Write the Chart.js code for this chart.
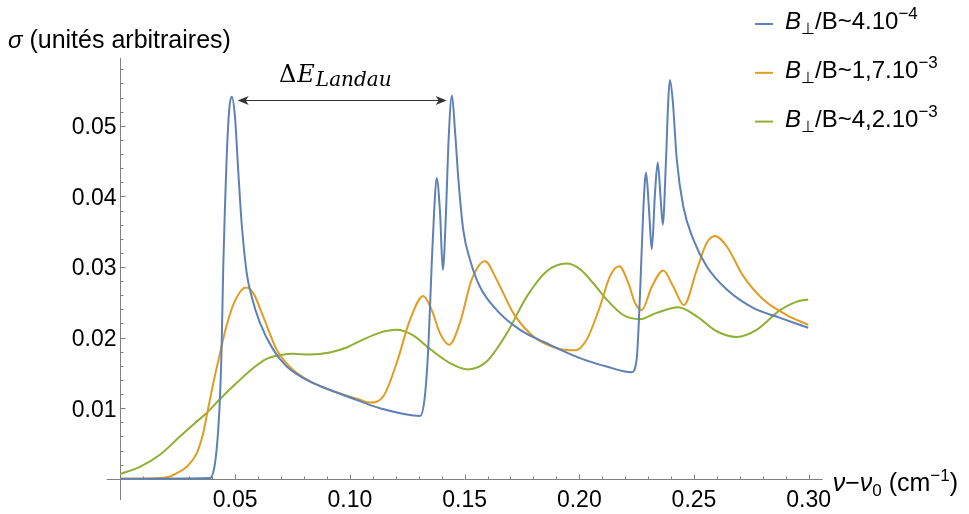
<!DOCTYPE html>
<html>
<head>
<meta charset="utf-8">
<script src="https://cdn.jsdelivr.net/npm/chart.js@4.4.0/dist/chart.umd.min.js"></script>
<style>
html, body { margin: 0; padding: 0; background: #fff; }
canvas { display: block; }
</style>
</head>
<body>
<canvas id="myChart" width="969" height="514"></canvas>
<script>
// [nu - nu0 (cm-1), sigma]
var blue = [[0, 0], [0.0390, 0.0001], [0.0412, 0.0022], [0.0426, 0.0069], [0.0434, 0.0117], [0.0441, 0.0187],
    [0.0448, 0.0300], [0.0456, 0.0390], [0.0463, 0.0456], [0.0474, 0.0523], [0.0485, 0.0541], [0.0499, 0.0513],
    [0.0514, 0.0433], [0.0528, 0.0363], [0.0550, 0.0292], [0.0572, 0.0258], [0.0608, 0.0221], [0.0666, 0.0183],
    [0.0725, 0.0159], [0.0812, 0.0140], [0.0928, 0.0124], [0.1044, 0.0110], [0.1131, 0.0100], [0.1306, 0.0089],
    [0.1327, 0.0117], [0.1342, 0.0187], [0.1357, 0.0306], [0.1367, 0.0377], [0.1378, 0.0426], [0.1393, 0.0377],
    [0.1405, 0.0296], [0.1419, 0.0377], [0.1429, 0.0471], [0.1445, 0.0543], [0.1458, 0.0494], [0.1473, 0.0424],
    [0.1494, 0.0353], [0.1524, 0.0310], [0.1567, 0.0272], [0.1640, 0.0239], [0.1742, 0.0211], [0.1858, 0.0192],
    [0.2003, 0.0171], [0.2119, 0.0159], [0.2228, 0.0151], [0.2250, 0.0169], [0.2265, 0.0264], [0.2279, 0.0381],
    [0.2291, 0.0434], [0.2304, 0.0381], [0.2316, 0.0325], [0.2330, 0.0405], [0.2342, 0.0448], [0.2355, 0.0395],
    [0.2364, 0.0360], [0.2378, 0.0452], [0.2388, 0.0537], [0.2395, 0.0565], [0.2407, 0.0537], [0.2425, 0.0452],
    [0.2453, 0.0386], [0.2497, 0.0339], [0.2555, 0.0301], [0.2643, 0.0268], [0.2758, 0.0242], [0.2875, 0.0228],
    [0.2998, 0.0214]];

var orange = [[0, 0], [0.0201, 0.0002], [0.0245, 0.0008], [0.0289, 0.0017], [0.0332, 0.0036], [0.0361, 0.0065],
    [0.0378, 0.0093], [0.0405, 0.0136], [0.0434, 0.0178], [0.0460, 0.0214], [0.0499, 0.0252], [0.0547, 0.0271],
    [0.0579, 0.0263], [0.0622, 0.0230], [0.0681, 0.0183], [0.0753, 0.0154], [0.0840, 0.0136], [0.0928, 0.0124],
    [0.1044, 0.0112], [0.1088, 0.0108], [0.1146, 0.0117], [0.1204, 0.0164], [0.1262, 0.0225], [0.1320, 0.0259],
    [0.1357, 0.0239], [0.1393, 0.0206], [0.1433, 0.0190], [0.1480, 0.0221], [0.1531, 0.0282], [0.1589, 0.0308],
    [0.1640, 0.0282], [0.1712, 0.0235], [0.1799, 0.0202], [0.1902, 0.0185], [0.1981, 0.0182], [0.2032, 0.0197],
    [0.2090, 0.0244], [0.2134, 0.0287], [0.2174, 0.0301], [0.2214, 0.0277], [0.2243, 0.0249], [0.2272, 0.0239],
    [0.2316, 0.0272], [0.2366, 0.0295], [0.2410, 0.0272], [0.2456, 0.0246], [0.2512, 0.0296], [0.2555, 0.0334],
    [0.2592, 0.0344], [0.2643, 0.0329], [0.2715, 0.0287], [0.2802, 0.0254], [0.2904, 0.0232], [0.2998, 0.0218]];

var green = [[0, 0.0007], [0.0085, 0.0017], [0.0172, 0.0034], [0.0259, 0.0060], [0.0332, 0.0081], [0.0378, 0.0094],
    [0.0434, 0.0113], [0.0507, 0.0136], [0.0579, 0.0157], [0.0637, 0.0170], [0.0695, 0.0175], [0.0753, 0.0177],
    [0.0826, 0.0176], [0.0913, 0.0179], [0.0986, 0.0186], [0.1050, 0.0196], [0.1131, 0.0207], [0.1204, 0.0211],
    [0.1276, 0.0203], [0.1349, 0.0184], [0.1436, 0.0164], [0.1516, 0.0155], [0.1596, 0.0166], [0.1684, 0.0206],
    [0.1771, 0.0258], [0.1858, 0.0294], [0.1945, 0.0305], [0.2003, 0.0297], [0.2061, 0.0277], [0.2119, 0.0254],
    [0.2192, 0.0232], [0.2265, 0.0226], [0.2337, 0.0235], [0.2432, 0.0243], [0.2512, 0.0230], [0.2599, 0.0209],
    [0.2686, 0.0201], [0.2773, 0.0211], [0.2875, 0.0239], [0.2948, 0.0251], [0.2998, 0.0254]];

var seriesColors = ['#5E81B5', '#E19C24', '#8FB032'];
var legendMain = ['4.10', '1,7.10', '4,2.10'];
var legendExp = ['\u22124', '\u22123', '\u22123'];

var xTicks = [0.05, 0.10, 0.15, 0.20, 0.25, 0.30];
var xTickLabels = ['0.05', '0.10', '0.15', '0.20', '0.25', '0.30'];
var yTicks = [0.01, 0.02, 0.03, 0.04, 0.05];
var yTickLabels = ['0.01', '0.02', '0.03', '0.04', '0.05'];

// arrow between the two first Landau peaks
var arrowFrom = [0.0511, 0.0536];
var arrowTo = [0.1422, 0.0536];

var SANS = '"Liberation Sans", Arial, sans-serif';
var SERIF = '"DejaVu Serif", "Liberation Serif", serif';

function toXY(arr) {
    return arr.map(function (p) { return { x: p[0], y: p[1] }; });
}

function drawRuns(ctx, x, y, runs) {
    runs.forEach(function (r) {
        ctx.font = (r.italic ? 'italic ' : '') + r.size + 'px ' + (r.family || SANS);
        ctx.fillText(r.t, x, y + (r.dy || 0));
        x += ctx.measureText(r.t).width + (r.gap || 0);
    });
    return x;
}

function arrowHead(ctx, x, y, dir) {
    ctx.beginPath();
    ctx.moveTo(x, y);
    ctx.lineTo(x - dir * 11, y - 4.5);
    ctx.lineTo(x - dir * 8, y);
    ctx.lineTo(x - dir * 11, y + 4.5);
    ctx.closePath();
    ctx.fill();
}

var decorPlugin = {
    id: 'decor',
    beforeDatasetsDraw: function (chart) {
        var ctx = chart.ctx, xs = chart.scales.x, ys = chart.scales.y, area = chart.chartArea;
        var x0 = Math.round(xs.getPixelForValue(0)) + 0.5;
        var y0 = Math.round(ys.getPixelForValue(0)) + 0.5;
        ctx.save();
        ctx.strokeStyle = '#808080';
        ctx.lineWidth = 1;
        ctx.beginPath();
        ctx.moveTo(area.left, y0); ctx.lineTo(area.right, y0);
        ctx.moveTo(x0, area.top); ctx.lineTo(x0, area.bottom);
        // minor + major ticks on x
        for (var i = 1; i <= 30; i++) {
            var px = Math.round(xs.getPixelForValue(i / 100)) + 0.5;
            var len = (i % 5 === 0) ? 5 : 3;
            ctx.moveTo(px, y0); ctx.lineTo(px, y0 - len);
        }
        // minor + major ticks on y
        for (var j = 1; j <= 29; j++) {
            var py = Math.round(ys.getPixelForValue(j * 0.002)) + 0.5;
            var ln = (j % 5 === 0) ? 5 : 3;
            ctx.moveTo(x0, py); ctx.lineTo(x0 + ln, py);
        }
        ctx.stroke();

        ctx.fillStyle = '#000';
        ctx.font = '23px ' + SANS;
        ctx.textAlign = 'center';
        ctx.textBaseline = 'alphabetic';
        xTicks.forEach(function (v, k) {
            ctx.fillText(xTickLabels[k], xs.getPixelForValue(v), y0 + 27);
        });
        ctx.textAlign = 'right';
        yTicks.forEach(function (v, k) {
            ctx.fillText(yTickLabels[k], x0 - 4, ys.getPixelForValue(v) + 8.5);
        });

        ctx.textAlign = 'left';
        // axis titles
        drawRuns(ctx, 8, 48, [
            { t: '\u03C3', italic: true, size: 24 },
            { t: ' (unit\u00E9s arbitraires)', size: 25 }
        ]);
        drawRuns(ctx, area.right + 10, 491, [
            { t: '\u03BD', italic: true, size: 25 },
            { t: '\u2212', size: 25 },
            { t: '\u03BD', italic: true, size: 25 },
            { t: '0', size: 17, dy: 5 },
            { t: ' (cm', size: 25 },
            { t: '\u22121', size: 17, dy: -10 },
            { t: ')', size: 25 }
        ]);

        // legend
        for (var s = 0; s < 3; s++) {
            var ly = 24 + s * 48.8;
            ctx.strokeStyle = seriesColors[s];
            ctx.lineWidth = 2;
            ctx.beginPath();
            ctx.moveTo(755, ly); ctx.lineTo(773, ly);
            ctx.stroke();
            ctx.fillStyle = '#000';
            drawRuns(ctx, 785, ly + 5, [
                { t: 'B', italic: true, size: 24 },
                { t: '\u22A5', size: 16, dy: 5 },
                { t: '/B~' + legendMain[s], size: 24 },
                { t: legendExp[s], size: 17, dy: -10 }
            ]);
        }

        // Landau spacing annotation
        var ax1 = xs.getPixelForValue(arrowFrom[0]), ax2 = xs.getPixelForValue(arrowTo[0]);
        var ay = Math.round(ys.getPixelForValue(arrowFrom[1])) + 0.5;
        ctx.strokeStyle = '#333';
        ctx.fillStyle = '#333';
        ctx.lineWidth = 1.2;
        ctx.beginPath();
        ctx.moveTo(ax1 + 6, ay); ctx.lineTo(ax2 - 6, ay);
        ctx.stroke();
        arrowHead(ctx, ax1, ay, -1);
        arrowHead(ctx, ax2, ay, 1);
        ctx.fillStyle = '#000';
        drawRuns(ctx, 279, 82, [
            { t: '\u0394', size: 24, family: SERIF, gap: 1 },
            { t: 'E', italic: true, size: 24, family: SERIF, gap: 1 },
            { t: 'Landau', italic: true, size: 20, family: SERIF, dy: 4 }
        ]);
        ctx.restore();
    }
};

var ctx = document.getElementById('myChart').getContext('2d');
var chartObj = new Chart(ctx, {
    type: 'line',
    data: {
        datasets: [
            { label: 'B\u22A5/B~4.10\u207B\u2074', data: toXY(blue) },
            { label: 'B\u22A5/B~1,7.10\u207B\u00B3', data: toXY(orange) },
            { label: 'B\u22A5/B~4,2.10\u207B\u00B3', data: toXY(green) }
        ].map(function (d, i) {
            d.borderColor = seriesColors[i];
            d.backgroundColor = seriesColors[i];
            d.borderWidth = 2;
            d.pointRadius = 0;
            d.fill = false;
            d.cubicInterpolationMode = 'monotone';
            return d;
        })
    },
    options: {
        responsive: false,
        animation: false,
        devicePixelRatio: 1,
        layout: { padding: { left: 106.7, right: 146.3, top: 58, bottom: 14 } },
        scales: {
            x: { type: 'linear', min: -0.006, max: 0.3061, display: false },
            y: { type: 'linear', min: -0.003, max: 0.0596, display: false }
        },
        plugins: {
            legend: { display: false },
            tooltip: { enabled: false }
        }
    },
    plugins: [decorPlugin]
});
</script>
</body>
</html>
